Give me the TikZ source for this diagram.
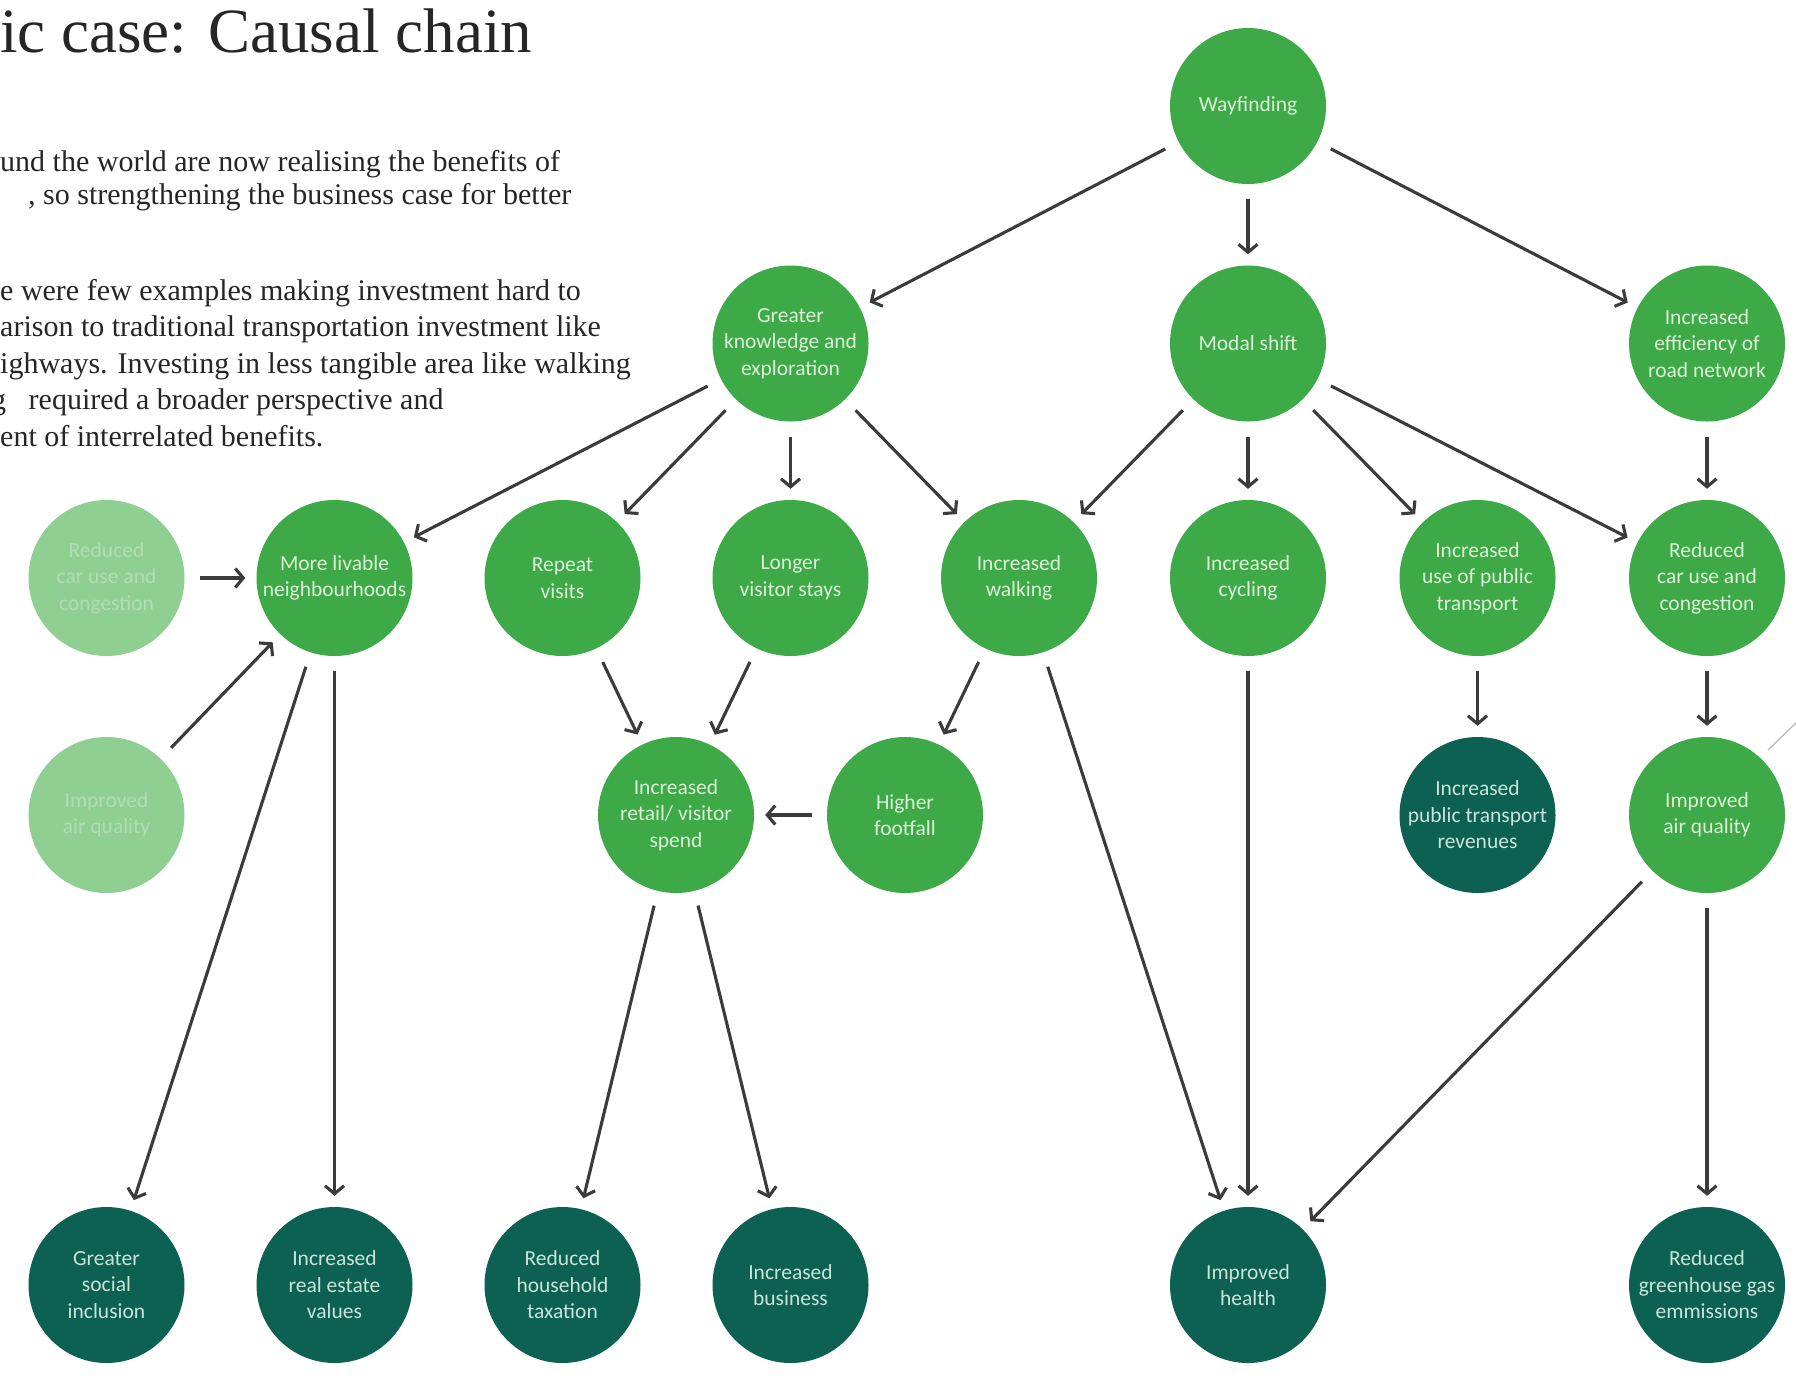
\documentclass[tikz,border=0pt]{standalone}
\usepackage{fontspec}
\setmainfont{Liberation Serif}
\newfontfamily\bubfont{Carlito}
\usetikzlibrary{arrows.meta}

\definecolor{leaf}{HTML}{3DAA47}
\definecolor{pine}{HTML}{0D6152}
\definecolor{mist}{HTML}{8FD092}
\definecolor{leaftext}{HTML}{DCF1D8}
\definecolor{pinetext}{HTML}{C9E4DA}
\definecolor{misttext}{HTML}{B2DDB4}
\definecolor{ink}{HTML}{3B3B3B}
\definecolor{bodytext}{HTML}{262626}

\tikzset{
  bubble/.style={circle, minimum size=156pt, inner sep=0pt, align=center,
    font=\bubfont\fontsize{21.5}{26.5}\selectfont},
  lite/.style={bubble, fill=leaf, text=leaftext},
  deep/.style={bubble, fill=pine, text=pinetext},
  faint/.style={bubble, fill=mist, text=misttext},
  link/.style={draw=ink, line width=3.1pt,
    -{Straight Barb[length=8pt,width=19pt]},
    shorten <=15pt, shorten >=11pt},
  prose/.style={anchor=base west, text=bodytext,
    font=\fontsize{30}{36}\selectfont, inner sep=0pt}
}

\begin{document}
\begin{tikzpicture}[x=1pt,y=-1pt]
\useasboundingbox[fill=white] (0,0) rectangle (1796,1379);

% heading and introductory text
\node[anchor=base west, inner sep=0pt, text=bodytext,
      font=\fontsize{63}{72}\selectfont] (title) at (0,52) {ic case: Causal chain};
\node[prose] (l1) at (0,171) {und the world are now realising the benefits of};
\node[prose] (l2) at (28,204) {, so strengthening the business case for better};
\node[prose] (l3) at (0,300) {e were few examples making investment hard to};
\node[prose] (l4) at (0,336.5) {arison to traditional transportation investment like};
\node[prose] (l5) at (0,373) {ighways. Investing in less tangible area like walking};
\node[prose] (l6) at (-9,409.5) {g\ \ \ required a broader perspective and};
\node[prose] (l7) at (0,446) {ent of interrelated benefits.};

% top of the chain
\node[lite] (way) at (1248,106) {Wayfinding};

\node[lite] (gk)  at (790.5,343.5) {Greater\\knowledge and\\exploration};
\node[lite] (ms)  at (1248,343.5) {Modal shift};
\node[lite] (eff) at (1707,343.5) {Increased\\efficiency of\\road network};

% second tier
\node[faint] (frc) at (106.5,578) {Reduced\\car use and\\congestion};
\node[lite] (ml)  at (334.5,578) {More livable\\neighbourhoods};
\node[lite] (rv)  at (562.5,578) {Repeat\\visits};
\node[lite] (lvs) at (790.5,578) {Longer\\visitor stays};
\node[lite] (iw)  at (1019,578) {Increased\\walking};
\node[lite] (ic)  at (1248,578) {Increased\\cycling};
\node[lite] (pt)  at (1477.5,578) {Increased\\use of public\\transport};
\node[lite] (rc)  at (1707,578) {Reduced\\car use and\\congestion};

% third tier
\node[faint] (faq) at (106.5,815) {Improved\\air quality};
\node[lite] (ret) at (676,815) {Increased\\retail/ visitor\\spend};
\node[lite] (hf)  at (905,815) {Higher\\footfall};
\node[deep] (ptr) at (1477.5,815) {Increased\\public transport\\revenues};
\node[lite] (aq)  at (1707,815) {Improved\\air quality};

% outcomes
\node[deep] (gsi) at (106.5,1285) {Greater\\social\\inclusion};
\node[deep] (res) at (334.5,1285) {Increased\\real estate\\values};
\node[deep] (rht) at (562.5,1285) {Reduced\\household\\taxation};
\node[deep] (ib)  at (790.5,1285) {Increased\\business};
\node[deep] (ih)  at (1248,1285) {Improved\\health};
\node[deep] (ghg) at (1707,1285) {Reduced\\greenhouse gas\\emmissions};

% causal links
\draw[link] (way) -- (gk);
\draw[link] (way) -- (ms);
\draw[link] (way) -- (eff);

\draw[link] (gk) -- (ml);
\draw[link] (gk) -- (rv);
\draw[link] (gk) -- (lvs);
\draw[link] (gk) -- (iw);

\draw[link] (ms) -- (iw);
\draw[link] (ms) -- (ic);
\draw[link] (ms) -- (pt);
\draw[link] (ms) -- (rc);

\draw[link] (eff) -- (rc);

\draw[link] (frc) -- (ml);
\draw[link] (faq) -- (ml);

\draw[link] (ml) -- (gsi);
\draw[link] (ml) -- (res);

\draw[link] (rv) -- (ret);
\draw[link] (lvs) -- (ret);
\draw[link] (iw) -- (hf);
\draw[link] (hf) -- (ret);

\draw[link] (ret) -- (rht);
\draw[link] (ret) -- (ib);

\draw[link] (iw) -- (ih);
\draw[link] (ic) -- (ih);
\draw[link] (pt) -- (ptr);
\draw[link] (rc) -- (aq);
\draw[link] (aq) -- (ih);
\draw[link] (aq) -- (ghg);

% faint line running in from the right edge
\coordinate (edgeA) at (1768,750);
\coordinate (edgeB) at (1800,719);
\draw[draw=gray!55, line width=1.3pt] (edgeA) -- (edgeB);
\end{tikzpicture}
\end{document}
